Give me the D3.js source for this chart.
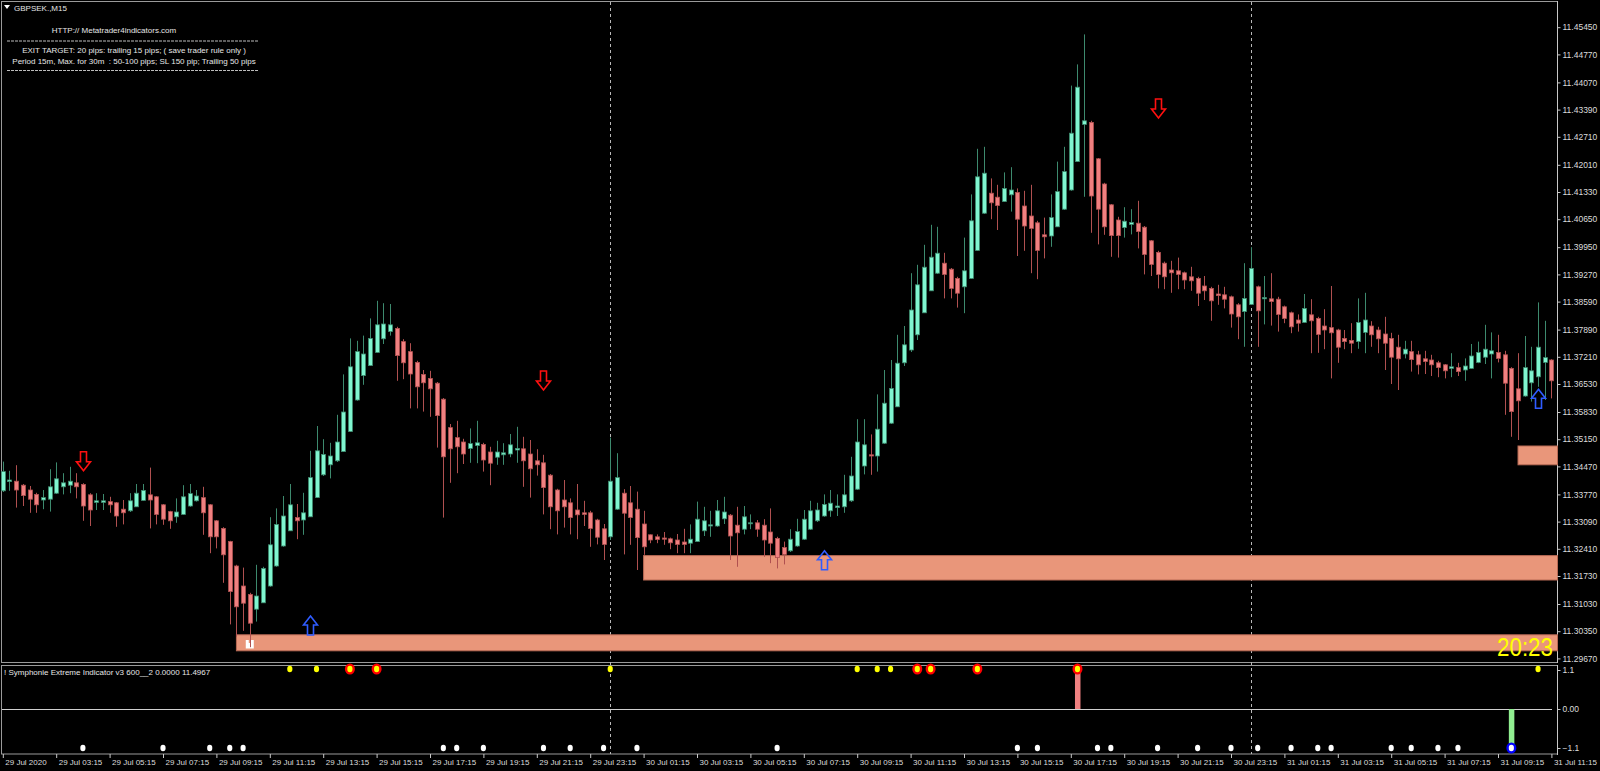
<!DOCTYPE html>
<html><head><meta charset="utf-8">
<script src="https://cdn.jsdelivr.net/npm/d3@7"></script>
<style>
html,body{margin:0;padding:0;background:#000;overflow:hidden}
svg{display:block}
text{font-family:"Liberation Sans",Arial,sans-serif}
</style></head><body>
<svg id="c" width="1600" height="771"></svg>
<script>
// ---- GBPSEK M15 candles, first bar 29 Jul 2020 01:15 ----
const openP=[11.3386,11.3409,11.3410,11.3400,11.3388,11.3377,11.3363,11.3365,11.3380,11.3396,
11.3400,11.3406,11.3402,11.3376,11.3357,11.3357,11.3359,11.3356,11.3340,11.3336,
11.3346,11.3362,11.3376,11.3371,11.3351,11.3334,11.3321,11.3327,11.3348,11.3361,
11.3369,11.3351,11.3311,11.3292,11.3259,11.3198,11.3148,11.3127,11.3090,11.3106,
11.3148,11.3198,11.3248,11.3286,11.3319,11.3313,11.3321,11.3369,11.3426,11.3451,
11.3461,11.3484,11.3534,11.3613,11.3674,11.3699,11.3732,11.3766,11.3784,11.3792,
11.3759,11.3734,11.3707,11.3677,11.3667,11.3655,11.3615,11.3544,11.3519,11.3508,
11.3492,11.3499,11.3502,11.3483,11.3470,11.3476,11.3478,11.3488,11.3491,11.3478,
11.3461,11.3456,11.3425,11.3388,11.3363,11.3356,11.3338,11.3331,11.3331,11.3313,
11.3291,11.3271,11.3340,11.3380,11.3356,11.3340,11.3303,11.3276,11.3271,11.3268,
11.3266,11.3263,11.3258,11.3255,11.3259,11.3286,11.3298,11.3298,11.3316,11.3325,
11.3300,11.3290,11.3304,11.3306,11.3300,11.3283,11.3267,11.3244,11.3236,11.3248,
11.3265,11.3290,11.3311,11.3323,11.3336,11.3344,11.3346,11.3361,11.3390,11.3448,
11.3476,11.3473,11.3505,11.3555,11.3596,11.3706,11.3738,11.3776,11.3831,11.3886,
11.3930,11.3955,11.3940,11.3917,11.3896,11.3917,11.3987,11.4080,11.4130,11.4120,
11.4109,11.4126,11.4132,11.4098,11.4073,11.4056,11.4026,11.4023,11.4046,11.4090,
11.4138,11.4209,11.4302,11.4307,11.4216,11.4153,11.4101,11.4063,11.4044,11.4052,
11.4055,11.4045,11.4011,11.3982,11.3955,11.3938,11.3936,11.3931,11.3921,11.3917,
11.3898,11.3892,11.3878,11.3876,11.3871,11.3851,11.3834,11.3852,11.3896,11.3866,
11.3866,11.3865,11.3846,11.3831,11.3813,11.3807,11.3826,11.3817,11.3798,11.3794,
11.3788,11.3767,11.3762,11.3759,11.3782,11.3798,11.3788,11.3778,11.3767,11.3745,
11.3728,11.3734,11.3726,11.3716,11.3713,11.3706,11.3701,11.3692,11.3694,11.3688,
11.3692,11.3707,11.3720,11.3728,11.3732,11.3726,11.3692,11.3641,11.3623,11.3656,
11.3671,11.3707,11.3713];
const highP=[11.3459,11.3436,11.3450,11.3403,11.3398,11.3381,11.3388,11.3440,11.3457,11.3430,
11.3446,11.3430,11.3405,11.3380,11.3380,11.3378,11.3371,11.3358,11.3363,11.3380,
11.3403,11.3403,11.3444,11.3373,11.3353,11.3336,11.3367,11.3400,11.3403,11.3388,
11.3396,11.3353,11.3313,11.3295,11.3261,11.3201,11.3194,11.3131,11.3201,11.3196,
11.3320,11.3342,11.3373,11.3403,11.3353,11.3381,11.3486,11.3548,11.3515,11.3506,
11.3576,11.3677,11.3767,11.3761,11.3774,11.3817,11.3861,11.3855,11.3853,11.3796,
11.3765,11.3755,11.3711,11.3688,11.3686,11.3658,11.3618,11.3553,11.3561,11.3516,
11.3542,11.3561,11.3506,11.3496,11.3511,11.3505,11.3528,11.3546,11.3521,11.3513,
11.3490,11.3476,11.3428,11.3391,11.3413,11.3367,11.3403,11.3361,11.3336,11.3316,
11.3303,11.3519,11.3480,11.3390,11.3398,11.3384,11.3336,11.3277,11.3277,11.3283,
11.3269,11.3278,11.3291,11.3302,11.3359,11.3346,11.3336,11.3363,11.3371,11.3328,
11.3346,11.3348,11.3327,11.3313,11.3315,11.3342,11.3271,11.3259,11.3290,11.3316,
11.3338,11.3361,11.3356,11.3377,11.3388,11.3377,11.3426,11.3471,11.3565,11.3565,
11.3527,11.3627,11.3688,11.3713,11.3776,11.3798,11.3930,11.3951,11.4001,11.4051,
11.4046,11.3981,11.3943,11.3921,11.4019,11.4127,11.4241,11.4246,11.4167,11.4151,
11.4182,11.4195,11.4142,11.4136,11.4151,11.4061,11.4069,11.4127,11.4209,11.4246,
11.4399,11.4452,11.4527,11.4311,11.4218,11.4156,11.4103,11.4071,11.4095,11.4090,
11.4111,11.4048,11.4013,11.3986,11.3959,11.3961,11.3969,11.3934,11.3946,11.3921,
11.3923,11.3896,11.3901,11.3896,11.3874,11.3855,11.3955,11.3995,11.3899,11.3923,
11.3930,11.3871,11.3849,11.3834,11.3827,11.3878,11.3865,11.3821,11.3840,11.3898,
11.3791,11.3788,11.3805,11.3867,11.3881,11.3810,11.3796,11.3821,11.3781,11.3776,
11.3761,11.3761,11.3736,11.3736,11.3726,11.3711,11.3703,11.3730,11.3706,11.3717,
11.3753,11.3759,11.3801,11.3782,11.3776,11.3736,11.3695,11.3730,11.3773,11.3746,
11.3857,11.3811,11.3715];
const lowP=[11.3383,11.3386,11.3344,11.3348,11.3331,11.3331,11.3340,11.3334,11.3378,11.3377,
11.3380,11.3367,11.3311,11.3298,11.3338,11.3338,11.3331,11.3296,11.3302,11.3333,
11.3346,11.3361,11.3292,11.3302,11.3301,11.3291,11.3306,11.3326,11.3346,11.3359,
11.3276,11.3230,11.3242,11.3156,11.3052,11.3021,11.3036,11.2995,11.3059,11.3106,
11.3146,11.3196,11.3246,11.3286,11.3265,11.3276,11.3321,11.3368,11.3423,11.3417,
11.3458,11.3483,11.3533,11.3611,11.3651,11.3698,11.3731,11.3753,11.3774,11.3661,
11.3665,11.3592,11.3592,11.3584,11.3571,11.3494,11.3319,11.3406,11.3430,11.3453,
11.3456,11.3455,11.3434,11.3400,11.3451,11.3451,11.3470,11.3456,11.3396,11.3369,
11.3424,11.3327,11.3290,11.3277,11.3294,11.3277,11.3265,11.3298,11.3246,11.3252,
11.3213,11.3263,11.3338,11.3227,11.3251,11.3188,11.3226,11.3255,11.3255,11.3251,
11.3240,11.3230,11.3230,11.3230,11.3258,11.3273,11.3271,11.3296,11.3303,11.3213,
11.3196,11.3277,11.3290,11.3271,11.3221,11.3205,11.3192,11.3202,11.3233,11.3246,
11.3263,11.3288,11.3308,11.3321,11.3321,11.3323,11.3331,11.3358,11.3388,11.3427,
11.3426,11.3434,11.3503,11.3553,11.3596,11.3698,11.3733,11.3763,11.3831,11.3886,
11.3928,11.3867,11.3867,11.3844,11.3830,11.3916,11.3986,11.4078,11.4065,11.4038,
11.4108,11.4084,11.3973,11.3986,11.3930,11.3915,11.3967,11.3996,11.4046,11.4088,
11.4136,11.4208,11.4121,11.4031,11.4002,11.4026,11.3971,11.3969,11.4019,11.4027,
11.3992,11.3927,11.3923,11.3892,11.3890,11.3881,11.3890,11.3890,11.3886,11.3848,
11.3863,11.3811,11.3851,11.3842,11.3794,11.3765,11.3746,11.3851,11.3746,11.3802,
11.3799,11.3784,11.3805,11.3780,11.3784,11.3806,11.3730,11.3731,11.3740,11.3667,
11.3706,11.3740,11.3730,11.3741,11.3730,11.3746,11.3730,11.3688,11.3653,11.3638,
11.3717,11.3684,11.3677,11.3678,11.3673,11.3670,11.3667,11.3670,11.3673,11.3661,
11.3691,11.3705,11.3703,11.3667,11.3707,11.3576,11.3521,11.3513,11.3621,11.3609,
11.3646,11.3613,11.3617];
const closeP=[11.3434,11.3413,11.3388,11.3374,11.3365,11.3351,11.3369,11.3396,11.3416,11.3406,
11.3410,11.3396,11.3348,11.3338,11.3361,11.3361,11.3351,11.3323,11.3331,11.3361,
11.3380,11.3387,11.3363,11.3327,11.3315,11.3311,11.3333,11.3371,11.3379,11.3373,
11.3331,11.3271,11.3271,11.3226,11.3134,11.3096,11.3105,11.3055,11.3123,11.3192,
11.3251,11.3302,11.3323,11.3351,11.3311,11.3331,11.3419,11.3486,11.3477,11.3473,
11.3508,11.3583,11.3696,11.3734,11.3728,11.3767,11.3801,11.3803,11.3801,11.3724,
11.3706,11.3678,11.3646,11.3656,11.3641,11.3574,11.3471,11.3491,11.3496,11.3478,
11.3504,11.3506,11.3463,11.3455,11.3483,11.3481,11.3501,11.3492,11.3461,11.3441,
11.3451,11.3394,11.3346,11.3336,11.3346,11.3319,11.3326,11.3327,11.3292,11.3270,
11.3252,11.3410,11.3419,11.3330,11.3319,11.3269,11.3246,11.3263,11.3264,11.3265,
11.3256,11.3252,11.3252,11.3265,11.3315,11.3311,11.3301,11.3336,11.3333,11.3273,
11.3281,11.3321,11.3306,11.3290,11.3263,11.3255,11.3219,11.3227,11.3265,11.3284,
11.3315,11.3336,11.3338,11.3352,11.3355,11.3348,11.3376,11.3423,11.3508,11.3501,
11.3473,11.3540,11.3605,11.3642,11.3705,11.3751,11.3838,11.3901,11.3945,11.3970,
11.3980,11.3927,11.3892,11.3880,11.3936,11.4061,11.4171,11.4180,11.4106,11.4099,
11.4142,11.4138,11.4065,11.4048,11.4042,11.3987,11.4021,11.4069,11.4134,11.4184,
11.4280,11.4395,11.4311,11.4123,11.4090,11.4046,11.4024,11.4024,11.4060,11.4057,
11.4034,11.3977,11.3952,11.3927,11.3921,11.3931,11.3927,11.3913,11.3911,11.3880,
11.3886,11.3861,11.3874,11.3865,11.3828,11.3821,11.3867,11.3942,11.3836,11.3869,
11.3859,11.3827,11.3817,11.3796,11.3805,11.3842,11.3811,11.3777,11.3788,11.3781,
11.3745,11.3759,11.3755,11.3807,11.3813,11.3776,11.3766,11.3755,11.3720,11.3716,
11.3740,11.3714,11.3701,11.3709,11.3701,11.3694,11.3686,11.3696,11.3684,11.3698,
11.3723,11.3732,11.3740,11.3736,11.3717,11.3655,11.3584,11.3611,11.3694,11.3686,
11.3745,11.3719,11.3661];

const priceTicks=[11.45450,11.44770,11.44070,11.43390,11.42710,11.42010,11.41330,11.40650,11.39950,11.39270,11.38590,11.37890,11.37210,11.36530,11.35830,11.35150,11.34470,11.33770,11.33090,11.32410,11.31730,11.31030,11.30350,11.29670];
const timeTickBars=[0,8,16,24,32,40,48,56,64,72,80,88,96,104,112,120,128,136,144,152,160,168,176,184,192,200,208,216,224,232];
const timeTickLabels=["29 Jul 2020","29 Jul 03:15","29 Jul 05:15","29 Jul 07:15","29 Jul 09:15","29 Jul 11:15","29 Jul 13:15","29 Jul 15:15","29 Jul 17:15","29 Jul 19:15","29 Jul 21:15","29 Jul 23:15","30 Jul 01:15","30 Jul 03:15","30 Jul 05:15","30 Jul 07:15","30 Jul 09:15","30 Jul 11:15","30 Jul 13:15","30 Jul 15:15","30 Jul 17:15","30 Jul 19:15","30 Jul 21:15","30 Jul 23:15","31 Jul 01:15","31 Jul 03:15","31 Jul 05:15","31 Jul 07:15","31 Jul 09:15","31 Jul 11:15"];
const daySeparatorBars=[91,187];

// supply zones
const zoneStartBar=[35,96,227];
const zoneTop=[11.3026,11.3224,11.3498];
const zoneBottom=[11.2986,11.3163,11.3451];

// arrows
const downArrowBars=[12,81,173];
const downArrowTips=[11.3436,11.3638,11.4318];
const upArrowBars=[46,123,230];
const upArrowTips=[11.3073,11.3236,11.3640];

// indicator
const indYellowBars=[43,47,91,128,131,133,230];
const indRedBars=[52,56,137,139,146,161];
const indWhiteBars=[12,24,31,34,36,66,68,72,81,85,90,95,116,152,155,164,166,173,179,184,188,193,197,199,208,211,215,218];
const histBars=[161,226];
const histValues=[1.1,-1.1];
const indTicks=[1.1,0,-1.1];

const svg=d3.select("#c");
svg.append("rect").attr("width",1600).attr("height",771).attr("fill","#000");

const x=d3.scaleLinear().domain([0,232]).range([2.8,1551.4]);
const y=d3.scaleLinear().domain([11.2967,11.4545]).range([658.4,27.2]);
const yi=d3.scaleLinear().domain([-1.1,1.1]).range([748,670]);
const RIGHT=1557.5;

// frames
svg.append("rect").attr("x",1.5).attr("y",1.5).attr("width",RIGHT-1.5).attr("height",661)
  .attr("fill","none").attr("stroke","#9a9a9a").attr("stroke-width",1);
svg.append("rect").attr("x",1.5).attr("y",665.5).attr("width",RIGHT-1.5).attr("height",88.5)
  .attr("fill","none").attr("stroke","#9a9a9a").attr("stroke-width",1);
svg.append("line").attr("x1",RIGHT).attr("x2",RIGHT).attr("y1",1).attr("y2",663).attr("stroke","#c8c8c8");
svg.append("line").attr("x1",RIGHT).attr("x2",RIGHT).attr("y1",665).attr("y2",755).attr("stroke","#c8c8c8");

// day separators
daySeparatorBars.forEach(b=>{
  svg.append("line").attr("x1",Math.round(x(b))+0.5).attr("x2",Math.round(x(b))+0.5)
    .attr("y1",2).attr("y2",754).attr("stroke","#b8b8b8").attr("stroke-dasharray","3,3");
});

// zones
const zg=svg.append("g");
zoneStartBar.forEach((b,i)=>{
  zg.append("rect").attr("x",x(b)).attr("y",y(zoneTop[i])).attr("width",RIGHT-x(b))
    .attr("height",y(zoneBottom[i])-y(zoneTop[i])).attr("fill","#e9967a")
    .attr("stroke","#b86a55").attr("stroke-width",1);
});
// small marker inside lowest zone
svg.append("rect").attr("x",x(37)-4).attr("y",640).attr("width",8).attr("height",8.5).attr("fill","#fff");
svg.append("rect").attr("x",x(37)-1).attr("y",640).attr("width",2).attr("height",3).attr("fill","#e9967a");

// candles
const cg=svg.append("g");
const BULL="#80f5d0", BEAR="#f08080", BULLW="#3d8a6e", BEARW="#b05050";
openP.forEach((o,i)=>{
  const c=closeP[i], h=Math.max(highP[i],o,c), l=Math.min(lowP[i],o,c);
  const up=c>=o;
  const cx=Math.round(x(i))+0.5;
  cg.append("line").attr("x1",cx).attr("x2",cx).attr("y1",y(h)).attr("y2",y(l))
    .attr("stroke",up?BULLW:BEARW).attr("stroke-width",1);
  const t=y(Math.max(o,c)), b=y(Math.min(o,c));
  cg.append("rect").attr("x",cx-2).attr("y",t).attr("width",4).attr("height",Math.max(1,b-t))
    .attr("fill",up?BULL:BEAR).attr("stroke",up?BULLW:BEARW).attr("stroke-width",0.8);
});

// arrows
function downPath(cx,ty){return `M${cx-3},${ty-19}L${cx+3},${ty-19}L${cx+3},${ty-9}L${cx+7},${ty-9}L${cx},${ty}L${cx-7},${ty-9}L${cx-3},${ty-9}Z`;}
function upPath(cx,ty){return `M${cx-3},${ty+19}L${cx+3},${ty+19}L${cx+3},${ty+9}L${cx+7},${ty+9}L${cx},${ty}L${cx-7},${ty+9}L${cx-3},${ty+9}Z`;}
downArrowBars.forEach((b,i)=>{
  svg.append("path").attr("d",downPath(Math.round(x(b))+0.5,y(downArrowTips[i])))
    .attr("fill","none").attr("stroke","#ff1010").attr("stroke-width",1.6);
});
upArrowBars.forEach((b,i)=>{
  svg.append("path").attr("d",upPath(Math.round(x(b))+0.5,y(upArrowTips[i])))
    .attr("fill","none").attr("stroke","#2f5cff").attr("stroke-width",1.6);
});

// price axis
const pa=svg.append("g").attr("transform",`translate(${RIGHT},0)`)
  .call(d3.axisRight(y).tickValues(priceTicks).tickFormat(d3.format(".5f")).tickSize(3).tickSizeOuter(0));
pa.select(".domain").remove();
pa.selectAll("line").attr("stroke","#c8c8c8");
pa.selectAll("text").attr("fill","#dcdcdc").attr("font-size","8.5px").attr("x",5)
  .style("font-family","'Liberation Sans',Arial,sans-serif");

// header texts
const tg=svg.append("g").attr("fill","#e6e6e6").attr("font-size","8px");
tg.append("path").attr("d","M4,5L10,5L7,9Z").attr("fill","#fff");
tg.append("text").attr("x",14).attr("y",11).text("GBPSEK.,M15");
tg.append("text").attr("x",114).attr("y",33).attr("text-anchor","middle").text("HTTP:// Metatrader4indicators.com");
tg.append("text").attr("x",134).attr("y",53).attr("text-anchor","middle").text("EXIT TARGET: 20 pips: trailing 15 pips; ( save trader rule only )");
tg.append("text").attr("x",134).attr("y",63.5).attr("text-anchor","middle").attr("xml:space","preserve").text("Period 15m, Max. for 30m  : 50-100 pips; SL 150 pip; Trailing 50 pips");
[41,70.5].forEach(yy=>svg.append("line").attr("x1",7).attr("x2",259).attr("y1",yy).attr("y2",yy)
  .attr("stroke","#bdbdbd").attr("stroke-dasharray","3,1"));

// clock text
svg.append("text").attr("x",1553).attr("y",656).attr("text-anchor","end").attr("fill","#ffff00")
  .attr("font-size","25px").attr("textLength",56).attr("lengthAdjust","spacingAndGlyphs").text("20:23");

// indicator panel
svg.append("text").attr("x",4).attr("y",675).attr("fill","#e6e6e6").attr("font-size","8px")
  .text("! Symphonie Extreme Indicator v3 600__2 0.0000 11.4967");
svg.append("line").attr("x1",2).attr("x2",1552).attr("y1",yi(0)+0.5).attr("y2",yi(0)+0.5).attr("stroke","#d0d0d0");
histBars.forEach((b,i)=>{
  const v=histValues[i];
  const t=yi(Math.max(0,v)), bt=yi(Math.min(0,v));
  svg.append("rect").attr("x",x(b)-2.5).attr("y",t).attr("width",5.5).attr("height",bt-t)
    .attr("fill",v>0?"#f08080":"#90ee90");
});
indYellowBars.forEach(b=>svg.append("ellipse").attr("cx",x(b)).attr("cy",yi(1.1)-1).attr("rx",2.6).attr("ry",3.2).attr("fill","#ffff00"));
indRedBars.forEach(b=>{
  svg.append("ellipse").attr("cx",x(b)).attr("cy",yi(1.1)-1).attr("rx",5).attr("ry",5.5).attr("fill","#ff0000");
  svg.append("ellipse").attr("cx",x(b)).attr("cy",yi(1.1)-1).attr("rx",2.6).attr("ry",3.2).attr("fill","#ffff00");
});
indWhiteBars.forEach(b=>svg.append("ellipse").attr("cx",x(b)).attr("cy",yi(-1.1)).attr("rx",2.6).attr("ry",3.2).attr("fill","#ffffff"));
svg.append("ellipse").attr("cx",x(226)).attr("cy",yi(-1.1)).attr("rx",5).attr("ry",5.5).attr("fill","#0000ff");
svg.append("ellipse").attr("cx",x(226)).attr("cy",yi(-1.1)).attr("rx",2.6).attr("ry",3.2).attr("fill","#ffffff");

const ia=svg.append("g").attr("transform",`translate(${RIGHT},0)`)
  .call(d3.axisRight(yi).tickValues(indTicks).tickFormat(d=>d===0?"0.00":d3.format(".1f")(d)).tickSize(3).tickSizeOuter(0));
ia.select(".domain").remove();
ia.selectAll("line").attr("stroke","#c8c8c8");
ia.selectAll("text").attr("fill","#dcdcdc").attr("font-size","8.5px").attr("x",5)
  .style("font-family","'Liberation Sans',Arial,sans-serif");

// time axis
const ta=svg.append("g").attr("transform","translate(0,754)")
  .call(d3.axisBottom(x).tickValues(timeTickBars).tickFormat((d,i)=>timeTickLabels[i]).tickSize(4).tickSizeOuter(0));
ta.select(".domain").remove();
ta.selectAll("line").attr("stroke","#c8c8c8");
ta.selectAll("text").attr("fill","#dcdcdc").attr("font-size","8px").attr("text-anchor","start")
  .attr("x",2).attr("y",5).attr("dy","0.71em")
  .style("font-family","'Liberation Sans',Arial,sans-serif");
</script>
</body></html>
